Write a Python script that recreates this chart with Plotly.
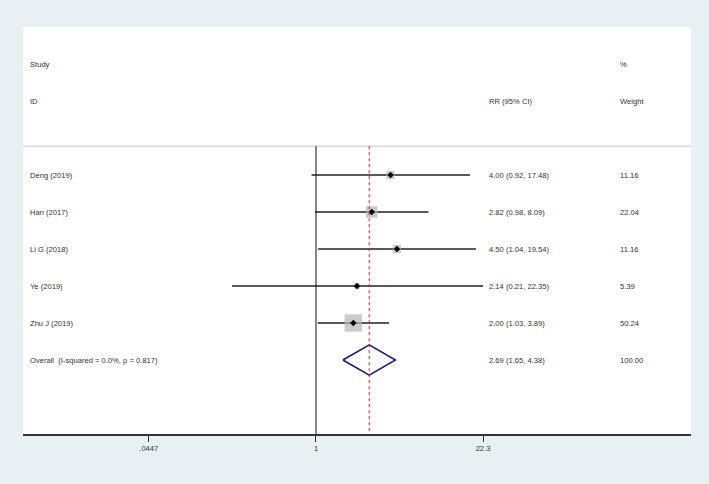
import numpy as np
import plotly.graph_objects as go

studies = ["Deng (2019)", "Han (2017)", "Li G (2018)", "Ye (2019)", "Zhu J (2019)"]
rr = [4.00, 2.82, 4.50, 2.14, 2.00]
ci_low = [0.92, 0.98, 1.04, 0.21, 1.03]
ci_high = [17.48, 8.09, 19.54, 22.35, 3.89]
weights = [11.16, 22.04, 11.16, 5.39, 50.24]

overall_label = "Overall  (I-squared = 0.0%, p = 0.817)"
overall_rr = 2.69
overall_low = 1.65
overall_high = 4.38
overall_weight = 100.00

tick_vals = [0.0447, 1, 22.3]
tick_text = [".0447", "1", "22.3"]

# layout constants
W, H = 709, 484
ML, MR, MT, MB = 23, 18, 27, 50
FONT = "Liberation Sans, Arial, sans-serif"
FS = 7.6
TXT = "#333333"
BG = "#e9f0f3"

study_rows = [3, 4, 5, 6, 7]
overall_row = 8
sep_row = 2.22

def px_to_paper(px):
    return (px - ML) / (W - ML - MR)

fig = go.Figure()

# CI lines
for r, lo, hi in zip(study_rows, ci_low, ci_high):
    fig.add_trace(go.Scatter(x=[lo, hi], y=[r, r], mode="lines",
                             line=dict(color="#222222", width=1.6),
                             hoverinfo="skip", showlegend=False))

# weighted boxes
box_sizes = [2.45 * np.sqrt(w) for w in weights]
fig.add_trace(go.Scatter(x=rr, y=study_rows, mode="markers",
                         marker=dict(symbol="square", size=box_sizes,
                                     color="#b5b5b5", line=dict(width=0)),
                         hoverinfo="skip", showlegend=False))
# point estimates
fig.add_trace(go.Scatter(x=rr, y=study_rows, mode="markers",
                         marker=dict(symbol="diamond", size=5, color="#000000"),
                         hoverinfo="skip", showlegend=False))

# overall diamond
hh = 0.41
fig.add_trace(go.Scatter(
    x=[overall_low, overall_rr, overall_high, overall_rr, overall_low],
    y=[overall_row, overall_row - hh, overall_row, overall_row + hh, overall_row],
    mode="lines", line=dict(color="#1a1a6e", width=1.5),
    hoverinfo="skip", showlegend=False))

shapes = []
# separator
shapes.append(dict(type="line", xref="paper", yref="y", x0=0, x1=1,
                   y0=sep_row, y1=sep_row, line=dict(color="#c4c4c4", width=1)))
# null line
shapes.append(dict(type="line", xref="x", yref="y", x0=1, x1=1,
                   y0=sep_row, y1=10, line=dict(color="#111111", width=1)))
# overall dashed line
shapes.append(dict(type="line", xref="x", yref="y", x0=overall_rr, x1=overall_rr,
                   y0=sep_row, y1=10, line=dict(color="#b22a2a", width=1, dash="3px,3px")))

annotations = []
def add_text(px, row, text):
    annotations.append(dict(x=px_to_paper(px), xref="paper", y=row, yref="y",
                            text=text, showarrow=False, xanchor="left",
                            yanchor="middle", font=dict(family=FONT, size=FS, color=TXT)))

add_text(28, 0, "Study")
add_text(28, 1, "ID")
add_text(487, 1, "RR (95% CI)")
add_text(618, 0, "%")
add_text(618, 1, "Weight")
for name, r, e, lo, hi, w in zip(studies, study_rows, rr, ci_low, ci_high, weights):
    add_text(28, r, name)
    add_text(487, r, f"{e:.2f} ({lo:.2f}, {hi:.2f})")
    add_text(618, r, f"{w:.2f}")
add_text(28, overall_row, overall_label)
add_text(487, overall_row, f"{overall_rr:.2f} ({overall_low:.2f}, {overall_high:.2f})")
add_text(618, overall_row, f"{overall_weight:.2f}")

fig.update_layout(
    width=W, height=H,
    margin=dict(l=ML, r=MR, t=MT, b=MB),
    paper_bgcolor=BG, plot_bgcolor="#ffffff",
    shapes=shapes, annotations=annotations,
    font=dict(family=FONT, size=FS, color=TXT),
    xaxis=dict(type="log", range=[-2.365, 3.027], tickvals=tick_vals, ticktext=tick_text,
               showgrid=False, zeroline=False, showline=True, linecolor="#333333",
               linewidth=1.5, ticks="outside", ticklen=6, tickcolor="#333333",
               tickwidth=1, tickfont=dict(family=FONT, size=FS, color=TXT)),
    yaxis=dict(range=[10, -1], visible=False, showgrid=False, zeroline=False),
)

fig.write_html("out.html", config={"displayModeBar": False},
               post_script="document.body.style.margin='0';document.body.style.background='" + BG + "';")
